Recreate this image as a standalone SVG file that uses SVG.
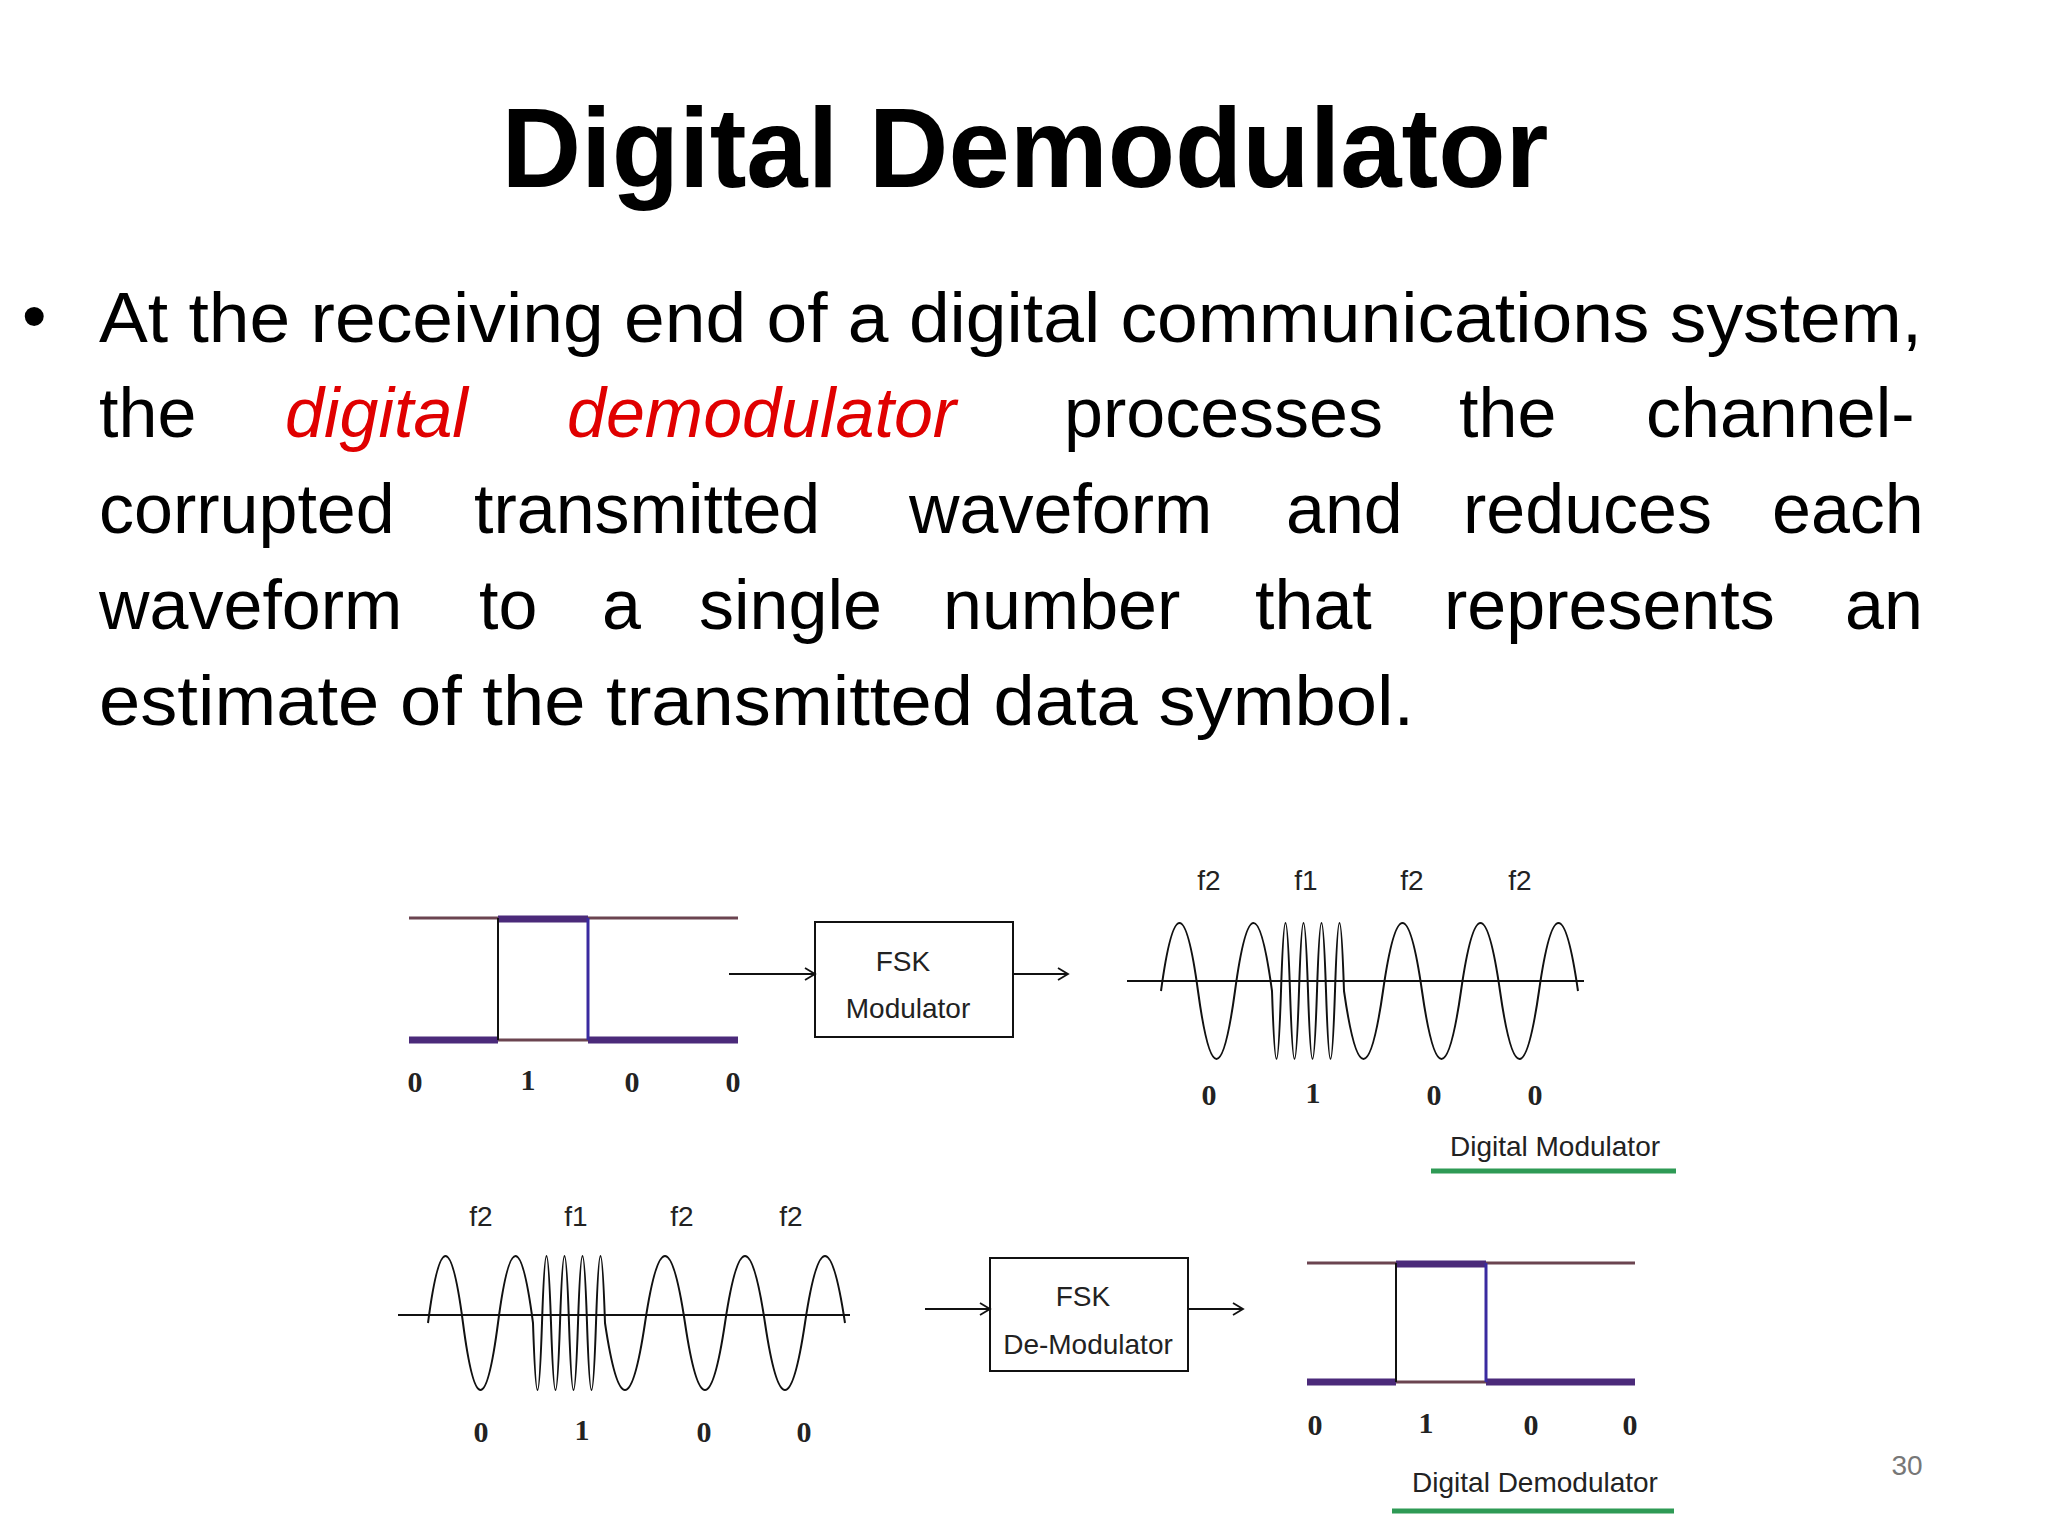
<svg xmlns="http://www.w3.org/2000/svg" width="2048" height="1536" viewBox="0 0 2048 1536">
<style>
.t{font-family:"Liberation Sans",Arial,sans-serif;fill:#000}
.lbl{font-family:"Liberation Sans",Arial,sans-serif;font-size:28px;fill:#222;text-anchor:middle}
.dig{font-family:"Liberation Serif",serif;font-size:30px;font-weight:bold;fill:#222;text-anchor:middle}
.w{fill:none;stroke:#111;stroke-width:2}
.ln{stroke:#111;stroke-width:2;fill:none}
.thin{stroke:#6b4450;stroke-width:3}
.thick{stroke:#4b2a7a;stroke-width:7}
.red{fill:#e00000;font-style:italic}
</style>
<defs>
<marker id="ah" markerWidth="14" markerHeight="14" refX="12" refY="7" orient="auto" markerUnits="userSpaceOnUse">
<path d="M2,1 L12,7 L2,13" fill="none" stroke="#111" stroke-width="1.8"/>
</marker>
</defs>
<rect width="2048" height="1536" fill="#fff"/>
<text class="t" x="1025" y="187" font-size="113" font-weight="bold" text-anchor="middle" textLength="1047" lengthAdjust="spacingAndGlyphs">Digital Demodulator</text>
<g id="body" class="t" font-size="70">
<text x="22" y="340">•</text>
<text x="99" y="342" textLength="1823" lengthAdjust="spacingAndGlyphs">At the receiving end of a digital communications system,</text>
<text y="437"><tspan x="99">the</tspan><tspan x="285" class="red">digital</tspan><tspan x="567" class="red">demodulator</tspan><tspan x="1064">processes</tspan><tspan x="1459">the</tspan><tspan x="1646">channel-</tspan></text>
<text y="533"><tspan x="99">corrupted</tspan><tspan x="474">transmitted</tspan><tspan x="909">waveform</tspan><tspan x="1286">and</tspan><tspan x="1463">reduces</tspan><tspan x="1772">each</tspan></text>
<text y="629"><tspan x="99">waveform</tspan><tspan x="479">to</tspan><tspan x="602">a</tspan><tspan x="699">single</tspan><tspan x="943">number</tspan><tspan x="1255">that</tspan><tspan x="1444">represents</tspan><tspan x="1845">an</tspan></text>
<text x="99" y="725" textLength="1315" lengthAdjust="spacingAndGlyphs">estimate of the transmitted data symbol.</text>
</g>
<g id="input-square">
<line class="thin" x1="409" y1="918" x2="498" y2="918"/><line class="thin" x1="588" y1="918" x2="738" y2="918"/>
<line class="thick" x1="498" y1="919" x2="588" y2="919"/>
<line class="thick" x1="409" y1="1040" x2="498" y2="1040"/><line class="thick" x1="588" y1="1040" x2="738" y2="1040"/>
<line class="thin" x1="498" y1="1040" x2="588" y2="1040"/>
<line stroke="#111" stroke-width="2" x1="498" y1="918" x2="498" y2="1040"/>
<line stroke="#3a2aa0" stroke-width="3" x1="588" y1="918" x2="588" y2="1040"/>
<text class="dig" x="415" y="1092">0</text><text class="dig" x="528" y="1090">1</text><text class="dig" x="632" y="1092">0</text><text class="dig" x="733" y="1092">0</text>
</g>
<g id="fsk-mod">
<rect x="815" y="922" width="198" height="115" fill="#fff" stroke="#111" stroke-width="2"/>
<text class="lbl" x="903" y="971">FSK</text><text class="lbl" x="908" y="1018">Modulator</text>
</g>
<g id="mod-wave">
<line class="ln" x1="1127" y1="981" x2="1584" y2="981"/>
<path class="w" d="M1161,991 q18.5,-136 37,0 t37,0 t37,0 q4.5,136 9,0 t9,0 t9,0 t9,0 t9,0 t9,0 t9,0 t9,0 q19.5,136 39,0 t39,0 t39,0 t39,0 t39,0 t39,0"/>
<text class="lbl" x="1209" y="890">f2</text><text class="lbl" x="1306" y="890">f1</text><text class="lbl" x="1412" y="890">f2</text><text class="lbl" x="1520" y="890">f2</text>
<text class="dig" x="1209" y="1105">0</text><text class="dig" x="1313" y="1103">1</text><text class="dig" x="1434" y="1105">0</text><text class="dig" x="1535" y="1105">0</text>
<text class="lbl" x="1555" y="1156" font-size="30">Digital Modulator</text>
<line x1="1431" y1="1171" x2="1676" y2="1171" stroke="#2e9a55" stroke-width="5"/>
</g>
<g id="demod-wave">
<line class="ln" x1="398" y1="1315" x2="850" y2="1315"/>
<path class="w" d="M428,1323 q17.5,-134 35,0 t35,0 t35,0 q4.5,134 9,0 t9,0 t9,0 t9,0 t9,0 t9,0 t9,0 t9,0 q20,134 40,0 t40,0 t40,0 t40,0 t40,0 t40,0"/>
<text class="lbl" x="481" y="1226">f2</text><text class="lbl" x="576" y="1226">f1</text><text class="lbl" x="682" y="1226">f2</text><text class="lbl" x="791" y="1226">f2</text>
<text class="dig" x="481" y="1442">0</text><text class="dig" x="582" y="1440">1</text><text class="dig" x="704" y="1442">0</text><text class="dig" x="804" y="1442">0</text>
</g>
<g id="fsk-demod">
<rect x="990" y="1258" width="198" height="113" fill="#fff" stroke="#111" stroke-width="2"/>
<text class="lbl" x="1083" y="1306">FSK</text><text class="lbl" x="1088" y="1354">De-Modulator</text>
</g>
<g id="output-square">
<line class="thin" x1="1307" y1="1263" x2="1396" y2="1263"/><line class="thin" x1="1486" y1="1263" x2="1635" y2="1263"/>
<line class="thick" x1="1396" y1="1264" x2="1486" y2="1264"/>
<line class="thick" x1="1307" y1="1382" x2="1396" y2="1382"/><line class="thick" x1="1486" y1="1382" x2="1635" y2="1382"/>
<line class="thin" x1="1396" y1="1382" x2="1486" y2="1382"/>
<line stroke="#111" stroke-width="2" x1="1396" y1="1263" x2="1396" y2="1382"/>
<line stroke="#3a2aa0" stroke-width="3" x1="1486" y1="1263" x2="1486" y2="1382"/>
<text class="dig" x="1315" y="1435">0</text><text class="dig" x="1426" y="1433">1</text><text class="dig" x="1531" y="1435">0</text><text class="dig" x="1630" y="1435">0</text>
<text class="lbl" x="1535" y="1492" font-size="30">Digital Demodulator</text>
<line x1="1392" y1="1511" x2="1674" y2="1511" stroke="#2e9a55" stroke-width="5"/>
</g>
<g id="connectors">
<line class="ln" x1="729" y1="974" x2="815" y2="974" marker-end="url(#ah)"/>
<line class="ln" x1="1013" y1="974" x2="1068" y2="974" marker-end="url(#ah)"/>
<line class="ln" x1="925" y1="1309" x2="990" y2="1309" marker-end="url(#ah)"/>
<line class="ln" x1="1188" y1="1309" x2="1243" y2="1309" marker-end="url(#ah)"/>
</g>
<text class="t" x="1907" y="1475" font-size="28" fill="#777" text-anchor="middle" style="fill:#777">30</text>
</svg>
